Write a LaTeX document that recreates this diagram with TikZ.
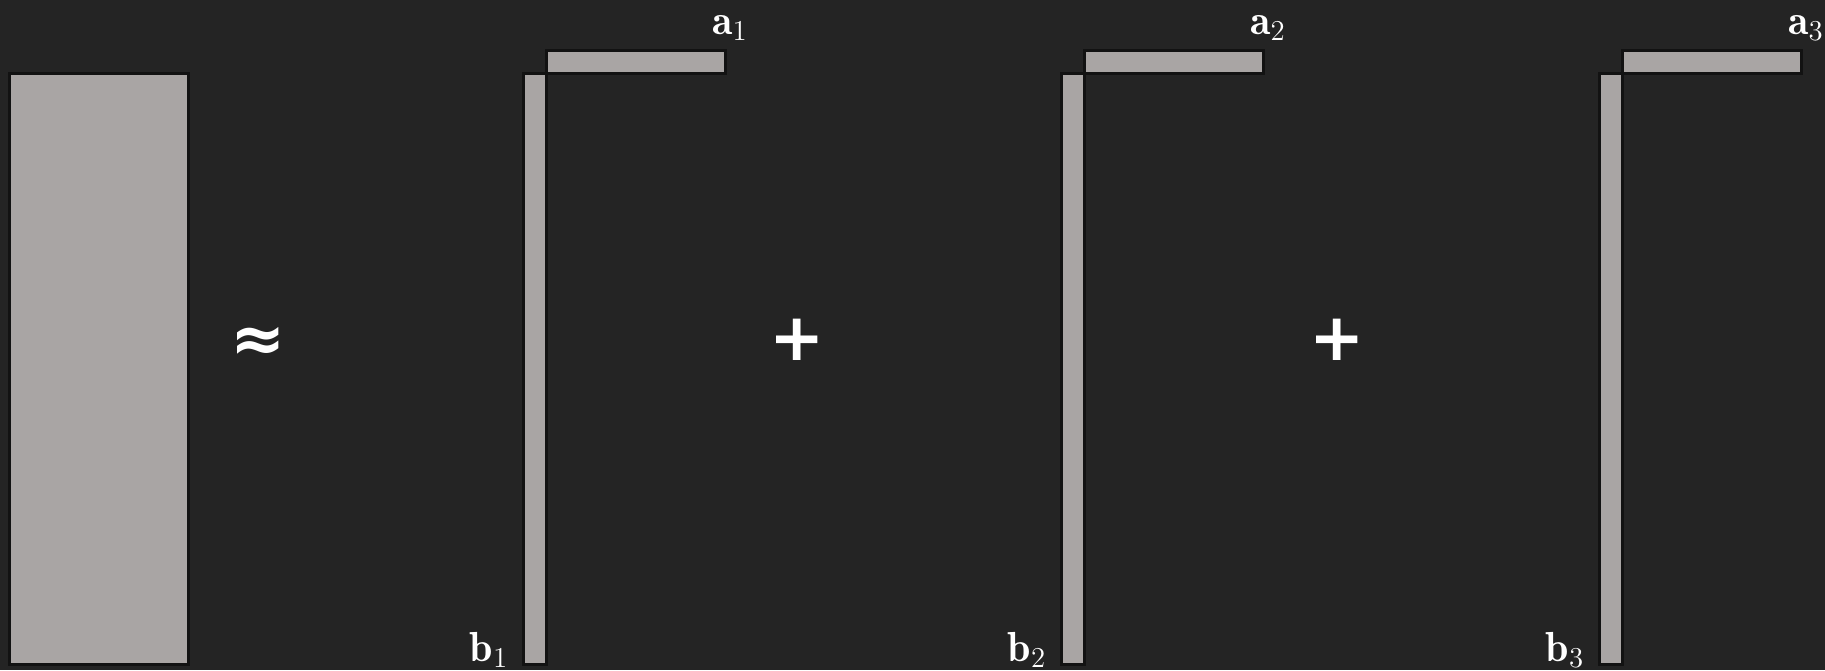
\documentclass[tikz,border=0pt]{standalone}
\usepackage{amsmath}
\usepackage{amssymb}
\usepackage{bm}
\usepackage{fontspec}
\usepackage{tikz}
\usepackage{xcolor}
\newfontfamily\opfont{DejaVu Sans}
\definecolor{cBack}{HTML}{242424}
\definecolor{cBlock}{HTML}{A9A5A4}
\definecolor{cEdge}{HTML}{121212}
\tikzset{
	block/.style  ={draw=cEdge, fill=cBlock, line width=1.5pt},
	vlabel/.style ={text=white, font=\fontsize{21}{25}\selectfont, inner sep=0pt},
	oper/.style   ={text=white, font=\opfont\bfseries\fontsize{33}{37}\selectfont, inner sep=0pt},
}

\begin{document}
\begin{tikzpicture}[x=0.5pt, y=-0.5pt]
	\fill[cBack] (0,0) rectangle (1825,670);
	\useasboundingbox (0,0) rectangle (1825,670);
	% data matrix
	\draw[block] (9.5,73) rectangle (188.5,664);
	\node[oper] (approx) at (258,344) {≈};
	% rank-one term 1
	\draw[block] (523.5,73) rectangle (546,664);
	\draw[block] (546,50.5) rectangle (725.5,73);
	\node[vlabel] (a1) at (730,28) {$\mathbf{a}_1$};
	\node[vlabel] (b1) at (489,650) {$\mathbf{b}_1$};
	\node[oper] (plus1) at (797,340) {+};
	% rank-one term 2
	\draw[block] (1061.5,73) rectangle (1084,664);
	\draw[block] (1084,50.5) rectangle (1263.5,73);
	\node[vlabel] (a2) at (1268,28) {$\mathbf{a}_2$};
	\node[vlabel] (b2) at (1027,650) {$\mathbf{b}_2$};
	\node[oper] (plus2) at (1337,340) {+};
	% rank-one term 3
	\draw[block] (1599.5,73) rectangle (1622,664);
	\draw[block] (1622,50.5) rectangle (1801.5,73);
	\node[vlabel] (a3) at (1806,28) {$\mathbf{a}_3$};
	\node[vlabel] (b3) at (1565,650) {$\mathbf{b}_3$};
\end{tikzpicture}
\end{document}
